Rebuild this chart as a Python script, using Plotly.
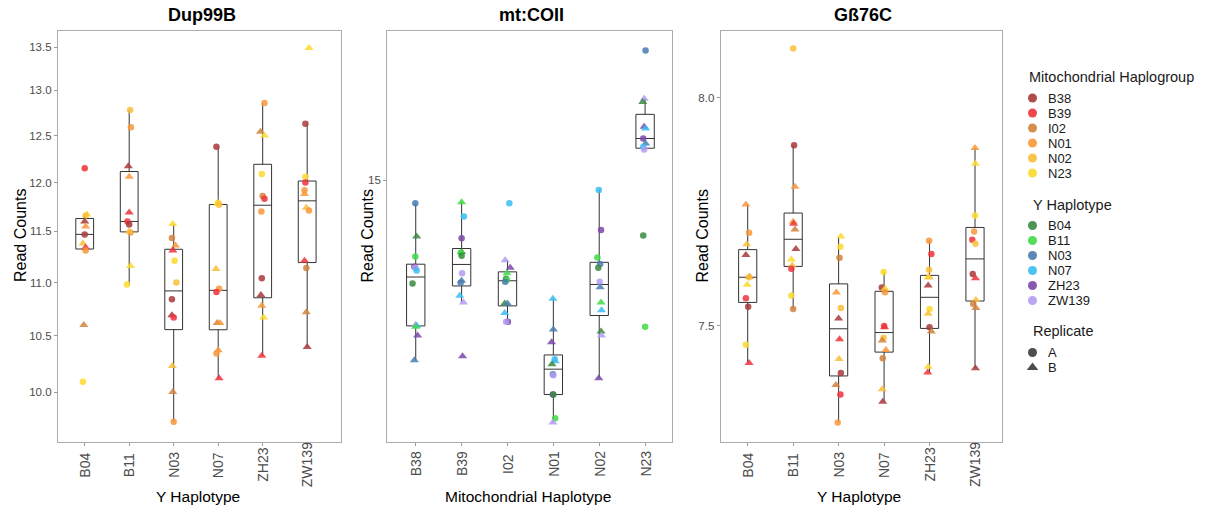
import numpy as np
import plotly.graph_objects as go

FONT = "Liberation Sans, Arial, Helvetica, sans-serif"

# ---------------- categories & palettes ----------------
Y_HAPLOTYPES = ["B04", "B11", "N03", "N07", "ZH23", "ZW139"]
MITO_HAPLOTYPES = ["B38", "B39", "I02", "N01", "N02", "N23"]
REPLICATES = ["A", "B"]

MITO_COLORS = ["#A8383B", "#EE3338", "#D2823C", "#F8983A", "#F9BE37", "#FCD92A"]
Y_COLORS = ["#3A8A40", "#3EDC45", "#4A7BB0", "#38BDF2", "#7A48A8", "#B49CF2"]
REP_SYMBOLS = ["circle", "triangle-up"]

# ---------------- Dup99B (x = Y haplotype, colour = mito) ----------------
dup_group = (["B04"] * 11 + ["B11"] * 11 + ["N03"] * 12 + ["N07"] * 12
             + ["ZH23"] * 12 + ["ZW139"] * 12)
dup_values = [
    12.15, 11.67, 11.66, 11.60, 11.55, 11.47, 11.38, 11.34, 11.31, 10.60, 10.09,
    12.78, 12.59, 12.17, 12.06, 11.69, 11.60, 11.57, 11.49, 11.50, 11.16, 10.98,
    11.575, 11.435, 11.36, 11.31, 11.21, 11.00, 10.84, 10.69, 10.67, 10.23, 10.00, 9.745,
    12.38, 11.79, 11.78, 11.77, 11.13, 10.94, 10.91, 10.62, 10.62, 10.37, 10.34, 10.12,
    12.86, 12.54, 12.50, 12.09, 11.86, 11.83, 11.70, 11.04, 10.88, 10.78, 10.67, 10.32,
    13.49, 12.63, 12.06, 12.00, 11.92, 11.88, 11.74, 11.71, 11.21, 11.14, 10.72, 10.40,
]
dup_mito = [
    "B39", "N23", "N02", "B38", "N01", "B38", "N02", "B39", "N01", "I02", "N23",
    "N02", "N01", "B38", "N01", "B39", "B39", "B38", "N01", "N02", "N23", "N23",
    "N23", "I02", "N01", "B39", "N23", "N02", "B38", "B38", "B39", "N02", "I02", "N01",
    "B38", "N23", "N23", "N02", "N02", "N01", "B39", "I02", "N01", "N01", "N01", "B39",
    "N01", "I02", "N23", "N23", "I02", "B39", "N01", "B38", "B38", "N01", "N23", "B39",
    "N23", "B38", "N23", "B39", "N01", "N01", "N02", "N01", "B39", "I02", "I02", "B38",
]
dup_rep = [
    "A", "B", "A", "B", "B", "A", "B", "B", "A", "B", "A",
    "A", "A", "B", "B", "B", "A", "A", "A", "B", "B", "A",
    "B", "A", "B", "B", "A", "A", "A", "B", "A", "B", "B", "A",
    "A", "A", "B", "A", "B", "A", "A", "B", "B", "B", "A", "B",
    "A", "B", "B", "A", "A", "A", "A", "A", "B", "B", "B", "B",
    "B", "A", "A", "A", "A", "B", "B", "A", "B", "A", "B", "B",
]
dup_jitter = [
    0, .05, .02, 0, .02, 0, -.04, .02, .02, -.02, -.04,
    .02, .04, -.02, 0, 0, -.04, 0, .03, 0, .03, -.05,
    -.02, -.04, .04, -.02, .02, .06, -.04, -.04, 0, -.03, -.02, 0,
    -.04, 0, -.02, .02, -.05, .02, -.04, -.02, .04, 0, -.04, .02,
    .04, -.05, .04, -.02, 0, .04, -.03, -.02, -.04, -.02, .02, -.02,
    .04, -.04, -.04, -.04, -.06, -.06, -.02, .04, -.06, -.02, -.02, 0,
]

# ---------------- mt:COII (x = mito haplotype, colour = Y) ----------------
coii_group = (["B38"] * 12 + ["B39"] * 12 + ["I02"] * 12 + ["N01"] * 12
              + ["N02"] * 12 + ["N23"] * 11)
coii_values = [
    14.74, 14.37, 14.15, 14.04, 14.03, 14.00, 13.86, 13.43, 13.42, 13.41, 13.32, 13.07,
    14.75, 14.59, 14.35, 14.20, 14.19, 14.16, 13.97, 13.89, 13.87, 13.73, 13.66, 13.11,
    14.74, 14.11, 14.03, 13.97, 13.91, 13.90, 13.88, 13.65, 13.65, 13.55, 13.46, 13.46,
    13.70, 13.38, 13.25, 13.08, 13.06, 13.03, 12.93, 12.92, 12.73, 12.73, 12.50, 12.46,
    14.89, 14.44, 14.14, 14.07, 14.03, 13.88, 13.82, 13.66, 13.58, 13.36, 13.32, 12.89,
    16.57, 15.97, 15.93, 15.63, 15.61, 15.49, 15.43, 15.39, 15.36, 14.38, 13.41,
]
coii_yhap = [
    "N03", "B04", "B11", "ZH23", "ZW139", "N07", "B04", "ZW139", "N07", "B11", "ZH23", "N03",
    "B11", "N07", "ZH23", "B04", "B11", "B04", "ZW139", "N03", "N03", "N07", "ZW139", "ZH23",
    "N07", "ZW139", "ZH23", "B11", "B04", "B11", "N03", "B04", "N03", "N07", "ZH23", "ZW139",
    "N07", "N03", "ZH23", "N07", "N07", "B04", "N03", "ZW139", "ZH23", "B04", "B11", "ZW139",
    "N07", "ZH23", "B11", "N03", "B04", "ZW139", "N03", "B11", "N07", "B04", "ZW139", "ZH23",
    "N03", "ZW139", "B04", "ZH23", "N07", "ZH23", "N03", "N07", "ZW139", "B04", "B11",
]
coii_rep = [
    "A", "B", "A", "A", "A", "A", "A", "B", "B", "B", "B", "B",
    "B", "A", "A", "B", "A", "A", "A", "B", "A", "B", "B", "B",
    "A", "B", "B", "B", "A", "A", "A", "B", "B", "B", "A", "A",
    "B", "B", "B", "A", "B", "B", "A", "A", "A", "A", "A", "B",
    "A", "A", "A", "A", "A", "A", "B", "B", "B", "B", "B", "B",
    "A", "B", "B", "B", "B", "A", "B", "A", "A", "A", "A",
]
coii_jitter = [
    -.01, .02, -.01, -.03, -.01, .02, -.07, 0, .02, 0, .04, -.03,
    0, .05, 0, 0, -.02, 0, .01, 0, -.02, -.04, .04, .02,
    .04, -.05, .06, -.01, -.03, -.01, -.05, -.06, 0, -.06, .01, -.03,
    -.01, 0, -.04, .03, .04, -.03, -.01, 0, -.01, 0, .04, -.01,
    -.01, .04, -.04, .02, -.02, .01, .02, .04, .05, .04, .05, -.01,
    .01, -.02, -.05, -.02, .01, -.04, .01, -.04, -.02, -.04, 0,
]

# ---------------- Gß76C (x = Y haplotype, colour = mito) ----------------
gb_group = (["B04"] * 11 + ["B11"] * 12 + ["N03"] * 12 + ["N07"] * 12
            + ["ZH23"] * 12 + ["ZW139"] * 12)
gb_values = [
    7.762, 7.700, 7.675, 7.652, 7.605, 7.604, 7.588, 7.559, 7.541, 7.460, 7.422,
    8.112, 7.893, 7.801, 7.724, 7.720, 7.707, 7.665, 7.642, 7.629, 7.622, 7.565, 7.536,
    7.692, 7.670, 7.646, 7.571, 7.538, 7.516, 7.472, 7.430, 7.401, 7.376, 7.356, 7.298,
    7.615, 7.582, 7.579, 7.572, 7.500, 7.497, 7.475, 7.469, 7.449, 7.432, 7.367, 7.341,
    7.683, 7.654, 7.620, 7.604, 7.604, 7.586, 7.536, 7.526, 7.497, 7.488, 7.414, 7.402,
    7.887, 7.852, 7.738, 7.703, 7.685, 7.676, 7.611, 7.602, 7.555, 7.547, 7.538, 7.411,
]
gb_mito = [
    "N01", "N01", "N02", "B38", "I02", "N02", "N23", "B39", "B38", "N23", "B39",
    "N02", "B38", "N01", "N01", "B39", "I02", "B38", "N23", "N02", "B39", "N23", "I02",
    "N23", "N23", "I02", "N01", "N02", "B38", "B39", "N02", "B38", "I02", "B39", "N01",
    "N23", "B38", "N23", "N01", "B39", "B39", "N02", "I02", "N01", "I02", "N02", "B38",
    "N01", "B39", "N02", "N01", "N23", "B38", "N23", "N02", "B38", "I02", "N23", "B39",
    "N01", "N23", "N23", "N01", "B39", "N02", "B38", "B39", "N02", "I02", "I02", "B38",
]
gb_rep = [
    "B", "A", "B", "B", "B", "A", "B", "A", "A", "A", "B",
    "A", "A", "B", "B", "B", "B", "B", "B", "B", "A", "A", "A",
    "B", "A", "A", "B", "A", "B", "B", "B", "A", "B", "A", "A",
    "A", "A", "B", "A", "A", "B", "A", "B", "B", "A", "B", "B",
    "A", "A", "A", "B", "B", "B", "A", "B", "A", "B", "B", "B",
    "B", "B", "A", "A", "A", "A", "A", "B", "B", "A", "B", "B",
]
gb_jitter = [
    -.04, .03, -.02, -.04, .04, .03, -.01, -.04, .01, -.04, .03,
    0, .02, .04, 0, .01, .04, .06, -.04, -.02, -.04, -.04, 0,
    .05, .04, .02, -.05, .05, 0, .02, .01, .05, -.06, .04, -.02,
    -.01, -.05, .02, .02, 0, .01, -.01, -.04, .04, -.03, -.04, -.03,
    -.01, .04, -.01, -.01, -.03, -.03, 0, -.03, 0, .04, -.03, -.04,
    0, .01, 0, -.02, -.06, .01, -.05, .01, .02, -.04, .02, .01,
]

# ---------------- axis ticks ----------------
dup_ticks = [10.0, 10.5, 11.0, 11.5, 12.0, 12.5, 13.0, 13.5]
coii_ticks = [15]
gb_ticks = [7.5, 8.0]

# ---------------- geometry (pixels of the 1205x510 page) ----------------
W, H = 1205, 510
PANEL_TOP, PANEL_BOTTOM = 31, 441.5
PANELS = [
    dict(title="Dup99B", left=58.0, right=341.0, xrange=[-0.6, 5.76],
         yrange=[9.579, 13.69], xtitle="Y Haplotype", ylabel_x=20),
    dict(title="mt:COII", left=387.3, right=671.7, xrange=[-0.62, 5.58],
         yrange=[12.28, 16.82], xtitle="Mitochondrial Haplotype", ylabel_x=366.5),
    dict(title="Gß76C", left=720.7, right=1002.0, xrange=[-0.594, 5.594],
         yrange=[7.259, 8.152], xtitle="Y Haplotype", ylabel_x=701.5),
]


def px_x(p):
    return p / W


def px_y(p):
    return (H - p) / H


def box_stats(vals):
    lv = np.log10(np.asarray(vals, dtype=float))
    q1, med, q3 = np.percentile(lv, [25, 50, 75])
    iqr = q3 - q1
    lo = lv[lv >= q1 - 1.5 * iqr].min()
    hi = lv[lv <= q3 + 1.5 * iqr].max()
    return [10 ** v for v in (q1, med, q3, lo, hi)]


fig = go.Figure()

datasets = [
    (Y_HAPLOTYPES, dup_group, dup_values, dup_mito, MITO_HAPLOTYPES, MITO_COLORS, dup_rep, dup_jitter, dup_ticks),
    (MITO_HAPLOTYPES, coii_group, coii_values, coii_yhap, Y_HAPLOTYPES, Y_COLORS, coii_rep, coii_jitter, coii_ticks),
    (Y_HAPLOTYPES, gb_group, gb_values, gb_mito, MITO_HAPLOTYPES, MITO_COLORS, gb_rep, gb_jitter, gb_ticks),
]

annotations = []
layout_axes = {}

for k, (cats, grp, vals, ckey, ckeys, cols, reps, jit, yticks) in enumerate(datasets):
    sfx = "" if k == 0 else str(k + 1)
    xa, ya = "x" + sfx, "y" + sfx
    P = PANELS[k]

    # boxes (stats computed from the data, Tukey whiskers, no outlier marks)
    stats = [box_stats([v for g, v in zip(grp, vals) if g == c]) for c in cats]
    fig.add_trace(go.Box(
        x=list(range(len(cats))),
        q1=[s[0] for s in stats], median=[s[1] for s in stats], q3=[s[2] for s in stats],
        lowerfence=[s[3] for s in stats], upperfence=[s[4] for s in stats],
        width=0.4, whiskerwidth=0, boxpoints=False,
        line=dict(color="#333333", width=1), fillcolor="rgba(255,255,255,0)",
        xaxis=xa, yaxis=ya, showlegend=False, hoverinfo="skip"))

    # jittered points
    xs = [cats.index(g) + j for g, j in zip(grp, jit)]
    colors = [cols[ckeys.index(c)] for c in ckey]
    symbols = [REP_SYMBOLS[REPLICATES.index(r)] for r in reps]
    sizes = [6.5 if r == "A" else 8 for r in reps]
    fig.add_trace(go.Scatter(
        x=xs, y=vals, mode="markers",
        marker=dict(color=colors, symbol=symbols, size=sizes, opacity=0.85,
                    line=dict(width=0)),
        xaxis=xa, yaxis=ya, showlegend=False))

    layout_axes["xaxis" + sfx] = dict(
        domain=[px_x(P["left"]), px_x(P["right"])], range=P["xrange"],
        anchor=ya, tickvals=list(range(len(cats))), showticklabels=False,
        ticks="outside", ticklen=3, tickcolor="#9a9a9a", tickwidth=1,
        showline=True, mirror=True, linecolor="#ababab", linewidth=1.2,
        showgrid=False, zeroline=False, fixedrange=True)
    layout_axes["yaxis" + sfx] = dict(
        domain=[px_y(PANEL_BOTTOM), px_y(PANEL_TOP)], type="log",
        range=[np.log10(P["yrange"][0]), np.log10(P["yrange"][1])],
        anchor=xa, tickvals=yticks,
        ticktext=[("%.1f" % t) if k != 1 else ("%d" % t) for t in yticks],
        tickfont=dict(family=FONT, size=11.5, color="#4D4D4D"),
        ticks="outside", ticklen=3, tickcolor="#9a9a9a", tickwidth=1,
        showline=True, mirror=True, linecolor="#ababab", linewidth=1.2,
        showgrid=False, zeroline=False, fixedrange=True)

    # category labels (rotated, centred like ggplot's angle=90 text)
    for i, c in enumerate(cats):
        annotations.append(dict(
            text=c, x=i, xref=xa, y=px_y(465 if k != 1 else 463.5), yref="paper",
            textangle=-90, showarrow=False, xanchor="center", yanchor="middle",
            font=dict(family=FONT, size=14, color="#4D4D4D")))

    cx = (P["left"] + P["right"]) / 2
    annotations.append(dict(text=P["title"], x=px_x(cx + 2), y=px_y(15), xref="paper",
                            yref="paper", showarrow=False, xanchor="center", yanchor="middle",
                            font=dict(family=FONT, size=18, color="#000000", weight="bold")))
    annotations.append(dict(text=P["xtitle"], x=px_x(cx - 2), y=px_y(496.5), xref="paper",
                            yref="paper", showarrow=False, xanchor="center", yanchor="middle",
                            font=dict(family=FONT, size=15.5, color="#000000")))
    annotations.append(dict(text="Read Counts", x=px_x(P["ylabel_x"]), y=px_y(236),
                            xref="paper", yref="paper", textangle=-90, showarrow=False,
                            xanchor="center", yanchor="middle",
                            font=dict(family=FONT, size=16, color="#000000")))

# ---------------- hand-built legend on an overlay axis in page pixels ----------------
LEG_DOT_X, LEG_TEXT_X, LEG_STEP = 1032.5, 1046.5, 15.0
legend_groups = [
    ("Mitochondrial Haplogroup", 1027.3, 76.5, 98.0, MITO_HAPLOTYPES, MITO_COLORS, ["circle"] * 6),
    ("Y Haplotype", 1030.5, 204.5, 225.5, Y_HAPLOTYPES, Y_COLORS, ["circle"] * 6),
    ("Replicate", 1030.5, 330.5, 352.5, REPLICATES, ["#3a3a3a", "#3a3a3a"], REP_SYMBOLS),
]
for title, tx, ty, y0, labels, cols, syms in legend_groups:
    ys = [y0 + i * LEG_STEP for i in range(len(labels))]
    fig.add_trace(go.Scatter(
        x=[LEG_DOT_X] * len(labels), y=ys, mode="markers",
        marker=dict(color=cols, symbol=syms, size=[9 if s == "circle" else 10 for s in syms],
                    opacity=0.9, line=dict(width=0)),
        xaxis="x4", yaxis="y4", showlegend=False, hoverinfo="skip"))
    annotations.append(dict(text=title, x=tx, y=ty, xref="x4", yref="y4", showarrow=False,
                            xanchor="left", yanchor="middle",
                            font=dict(family=FONT, size=14.5, color="#1a1a1a")))
    for lab, yy in zip(labels, ys):
        annotations.append(dict(text=lab, x=LEG_TEXT_X, y=yy, xref="x4", yref="y4",
                                showarrow=False, xanchor="left", yanchor="middle",
                                borderpad=0,
                                font=dict(family=FONT, size=13, color="#1a1a1a")))

layout_axes["xaxis4"] = dict(domain=[0, 1], range=[0, W], anchor="y4", visible=False,
                             fixedrange=True)
layout_axes["yaxis4"] = dict(domain=[0, 1], range=[H, 0], anchor="x4", visible=False,
                             fixedrange=True)

fig.update_layout(
    width=W, height=H, margin=dict(l=0, r=0, t=0, b=0),
    paper_bgcolor="white", plot_bgcolor="rgba(0,0,0,0)",
    showlegend=False, annotations=annotations,
    font=dict(family=FONT), **layout_axes)

fig.write_html("out.html")
